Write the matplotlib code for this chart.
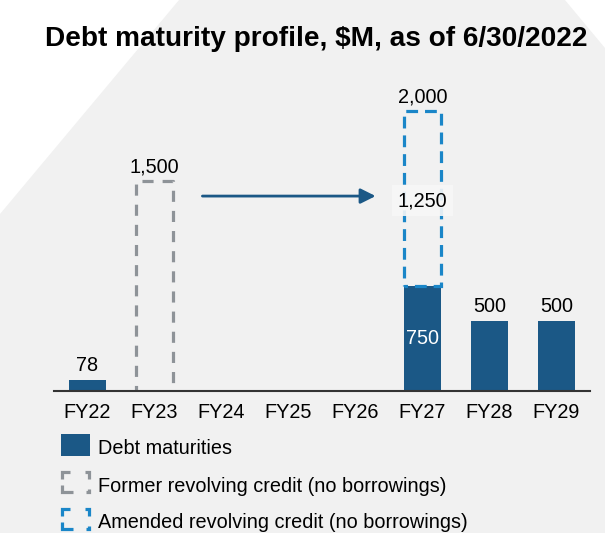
import matplotlib
matplotlib.use("Agg")
import matplotlib.pyplot as plt
from matplotlib.patches import Polygon, Rectangle
from matplotlib.lines import Line2D
import numpy as np

plt.rcParams['font.family'] = ['Liberation Sans', 'DejaVu Sans']
plt.rcParams['lines.scale_dashes'] = False

categories = ['FY22', 'FY23', 'FY24', 'FY25', 'FY26', 'FY27', 'FY28', 'FY29']
debt_maturities = [78, 0, 0, 0, 0, 750, 500, 500]
former_revolver = [0, 1500, 0, 0, 0, 0, 0, 0]
amended_revolver = [0, 0, 0, 0, 0, 1250, 0, 0]
legend_labels = ['Debt maturities',
                 'Former revolving credit (no borrowings)',
                 'Amended revolving credit (no borrowings)']
title = 'Debt maturity profile, $M, as of 6/30/2022'

NAVY = '#1B5886'
BLUE = '#1A86C8'
GRAY = '#8E9398'
BG = '#F1F1F1'

W, H = 605, 533
fig = plt.figure(figsize=(W / 100, H / 100), dpi=100)
fig.patch.set_facecolor('white')

def fx(px):
    return px / W

def fy(py):
    return 1 - py / H

# background shape
poly = [(0, 214), (179, 0), (565, 0), (605, 48), (605, 533), (0, 533)]
fig.add_artist(Polygon([(fx(a), fy(b)) for a, b in poly], closed=True,
                       transform=fig.transFigure, facecolor=BG, edgecolor='none', zorder=0))

ax = fig.add_axes([fx(54), fy(391), fx(590) - fx(54), (391 - 96.5) / H])
ax.set_facecolor('none')
x = np.arange(len(categories))
bw = 0.56
FS = 14.3

ax.bar(x, debt_maturities, width=bw, color=NAVY, zorder=2)

# amended revolver box (stacked on debt)
for i, v in enumerate(amended_revolver):
    if v > 0:
        ax.bar(i, v, bottom=debt_maturities[i], width=bw, fill=False,
               edgecolor=BLUE, linewidth=2.3, linestyle=(6, (8.5, 5)), zorder=3)
        total = v + debt_maturities[i]
        ax.annotate(f'{total:,}', (i, total), xytext=(0, 10), textcoords='offset points',
                    ha='center', va='center', fontsize=FS, color='black')
        ax.annotate(f'{v:,}', (i, debt_maturities[i] + v / 2), xytext=(0, -2),
                    textcoords='offset points', ha='center', va='center',
                    fontsize=FS, color='black', zorder=4,
                    bbox=dict(boxstyle='square,pad=0.3', facecolor='#F7F7F7',
                              edgecolor='none', alpha=0.9))

# former revolver box (open at bottom)
for i, v in enumerate(former_revolver):
    if v > 0:
        ax.plot([i - bw / 2, i - bw / 2, i + bw / 2, i + bw / 2], [0, v, v, 0],
                color=GRAY, linewidth=2.3, linestyle=(4, (8, 6.5)), zorder=3)
        ax.annotate(f'{v:,}', (i, v), xytext=(0, 10), textcoords='offset points',
                    ha='center', va='center', fontsize=FS, color='black')

# debt labels
for i, v in enumerate(debt_maturities):
    if v <= 0:
        continue
    if amended_revolver[i] > 0:
        ax.text(i, v / 2, f'{v:,}', ha='center', va='center', fontsize=FS, color='white', zorder=4)
    else:
        ax.annotate(f'{v:,}', (i, v), xytext=(0, 10.5), textcoords='offset points',
                    ha='center', va='center', fontsize=FS, color='black')

# arrow from former to amended
src = former_revolver.index(max(former_revolver))
dst = amended_revolver.index(max(amended_revolver))
ay = 1390
ax.annotate('', xy=(dst - 0.7, ay), xytext=(src + 0.715, ay),
            arrowprops=dict(arrowstyle='-|>,head_length=0.9,head_width=0.45', color=NAVY,
                            lw=2, shrinkA=0, shrinkB=0, mutation_scale=10))

ax.set_xlim(-0.5, len(categories) - 0.5)
ax.set_ylim(0, 2100)
ax.set_xticks(x)
ax.set_xticklabels(categories, fontsize=FS)
ax.tick_params(axis='x', length=0, pad=9)
ax.set_yticks([])
for s in ['left', 'right', 'top']:
    ax.spines[s].set_visible(False)
ax.spines['bottom'].set_color('#333333')
ax.spines['bottom'].set_linewidth(1.5)
ax.spines['bottom'].set_zorder(5)

fig.text(fx(316), fy(39), title, ha='center', va='center', fontsize=20.2, fontweight='bold')

# legend
fig.add_artist(Rectangle((fx(61), fy(455.5)), fx(29), 21.5 / H, transform=fig.transFigure,
                         facecolor=NAVY, edgecolor='none'))

def corner_icon(x0, y0, w, h, color):
    ah, av = 8, 7
    corners = [
        [(x0 + ah, y0), (x0, y0), (x0, y0 + av)],
        [(x0 + w - ah + 4, y0), (x0 + w, y0), (x0 + w, y0 + av)],
        [(x0, y0 + h - av), (x0, y0 + h), (x0 + ah + 3, y0 + h)],
        [(x0 + w, y0 + h - 3), (x0 + w, y0 + h), (x0 + w - 3, y0 + h)],
    ]
    for c in corners:
        fig.add_artist(Line2D([fx(p[0]) for p in c], [fy(p[1]) for p in c],
                              transform=fig.transFigure, color=color, linewidth=2.3,
                              solid_capstyle='butt', solid_joinstyle='miter'))

corner_icon(62, 472, 27, 20, GRAY)
corner_icon(62, 509, 27, 20, BLUE)
for lbl, yy in zip(legend_labels, [448, 486, 522]):
    fig.text(fx(98), fy(yy), lbl, ha='left', va='center', fontsize=FS)

fig.savefig('out.png', dpi=100, facecolor=fig.get_facecolor())
